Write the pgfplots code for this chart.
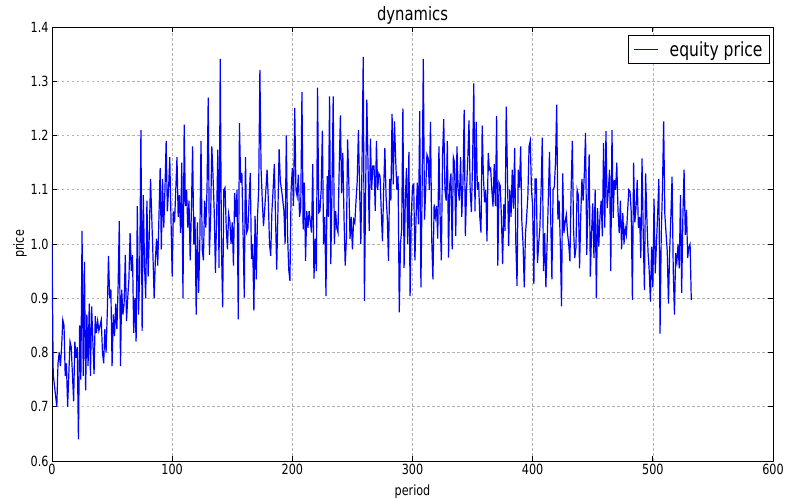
\documentclass[border=0pt]{standalone}
\usepackage{fontspec}
\setmainfont{DejaVu Sans}[FakeStretch=0.8]
\usepackage{pgfplots}
\pgfplotsset{compat=1.18}
\begin{document}
\begin{tikzpicture}
\begin{axis}[
  scale only axis, width=721pt, height=434pt,
  xmin=0, xmax=600, ymin=0.6, ymax=1.4,
  xtick={0,100,200,300,400,500,600},
  xticklabels={0,100,200,300,400,500,600},
  ytick={0.6,0.7,0.8,0.9,1.0,1.1,1.2,1.3,1.4},
  yticklabels={0.6,0.7,0.8,0.9,1.0,1.1,1.2,1.3,1.4},
  tick align=inside, major tick length=5pt,
  tick style={black, line width=0.8pt},
  axis line style={black, line width=0.9pt},
  grid=major,
  major grid style={black!30, dash pattern=on 2.5pt off 2.5pt, line width=0.6pt},
  ticklabel style={font=\fontsize{14}{16}\selectfont},
  title={dynamics},
  title style={font=\fontsize{18.5}{20}\selectfont, yshift=-7pt},
  xlabel={period}, ylabel={price},
  label style={font=\fontsize{14}{16}\selectfont},
  xlabel style={yshift=-3pt},
  ylabel style={yshift=-3pt},
  legend style={at={(0.9958,0.9816)}, anchor=north east, draw=black, line width=0.8pt,
    font=\fontsize{19.5}{21}\selectfont, inner xsep=5pt, inner ysep=4pt},
  legend cell align=left,
  legend image code/.code={\draw[#1] (0pt,0pt) -- (24pt,0pt);},
]
\addplot[blue, line width=1.2pt] coordinates {
(0,1.00)(1,0.76)(2,0.74)(3,0.72)(4,0.70)(5,0.78)(6,0.80)(7,0.775)(8,0.81)(9,0.86)
(10,0.85)(11,0.757)(12,0.78)(13,0.70)(14,0.76)(15,0.82)(16,0.81)(17,0.76)(18,0.71)(19,0.82)
(20,0.79)(21,0.81)(22,0.64)(23,0.85)(24,0.75)(25,1.024)(26,0.757)(27,0.967)(28,0.73)(29,0.87)
(30,0.775)(31,0.89)(32,0.757)(33,0.885)(34,0.82)(35,0.76)(36,0.867)(37,0.836)(38,0.858)(39,0.84)
(40,0.85)(41,0.86)(42,0.80)(43,0.78)(44,0.843)(45,0.80)(46,0.873)(47,0.978)(48,0.90)(49,0.916)
(50,0.775)(51,0.87)(52,0.83)(53,0.89)(54,0.843)(55,0.92)(56,1.042)(57,0.775)(58,0.916)(59,0.87)
(60,0.89)(61,0.98)(62,0.858)(63,0.90)(64,0.935)(65,1.02)(66,0.95)(67,0.98)(68,0.836)(69,0.90)
(70,0.82)(71,1.07)(72,0.87)(73,0.95)(74,1.21)(75,0.84)(76,1.09)(77,0.96)(78,0.90)(79,1.08)
(80,0.94)(81,1.02)(82,1.12)(83,1.05)(84,0.98)(85,0.90)(86,0.97)(87,1.01)(88,0.96)(89,1.05)
(90,1.14)(91,0.99)(92,1.12)(93,1.03)(94,1.10)(95,1.19)(96,1.06)(97,1.10)(98,1.16)(99,1.05)
(100,0.94)(101,1.06)(102,1.04)(103,1.10)(104,1.16)(105,1.05)(106,1.09)(107,1.02)(108,1.15)(109,0.90)
(110,1.22)(111,1.07)(112,1.10)(113,1.03)(114,1.08)(115,0.97)(116,1.06)(117,1.18)(118,1.00)(119,1.05)
(120,0.87)(121,1.04)(122,0.91)(123,1.00)(124,1.19)(125,0.99)(126,0.97)(127,1.08)(128,1.03)(129,1.10)
(130,1.27)(131,0.98)(132,1.05)(133,1.18)(134,1.125)(135,1.06)(136,0.947)(137,1.05)(138,1.174)(139,0.956)
(140,1.341)(141,1.00)(142,0.883)(143,1.10)(144,1.104)(145,1.03)(146,0.99)(147,1.055)(148,1.042)(149,1.00)
(150,1.04)(151,0.96)(152,1.094)(153,1.05)(154,1.10)(155,0.861)(156,1.223)(157,1.113)(158,1.131)(159,1.02)
(160,0.901)(161,1.16)(162,1.021)(163,1.027)(164,1.08)(165,1.131)(166,0.972)(167,1.00)(168,0.877)(169,1.052)
(170,0.935)(171,1.05)(172,1.10)(173,1.321)(174,1.137)(175,1.08)(176,1.033)(177,1.064)(178,1.10)(179,1.137)
(180,1.082)(181,1.00)(182,0.978)(183,1.06)(184,1.10)(185,1.147)(186,1.05)(187,0.953)(188,1.06)(189,1.175)
(190,1.116)(191,1.10)(192,1.082)(193,1.061)(194,1.00)(195,1.20)(196,1.02)(197,0.953)(198,0.932)(199,1.10)
(200,1.14)(201,1.07)(202,1.251)(203,1.10)(204,1.088)(205,1.128)(206,1.05)(207,1.067)(208,1.28)(209,1.027)
(210,1.113)(211,0.969)(212,1.061)(213,1.03)(214,1.061)(215,1.04)(216,1.021)(217,1.147)(218,0.936)(219,1.01)
(220,0.95)(221,1.288)(222,1.058)(223,1.061)(224,1.10)(225,1.209)(226,1.00)(227,1.05)(228,0.904)(229,1.125)
(230,1.05)(231,1.272)(232,0.963)(233,1.10)(234,1.272)(235,1.00)(236,1.061)(237,1.03)(238,1.021)(239,1.139)
(240,1.237)(241,1.094)(242,1.168)(243,1.05)(244,0.96)(245,1.01)(246,1.193)(247,1.113)(248,1.009)(249,1.05)
(250,0.99)(251,1.045)(252,1.039)(253,1.08)(254,1.116)(255,1.21)(256,1.10)(257,1.00)(258,1.15)(259,1.345)
(260,0.895)(261,1.10)(262,1.266)(263,1.144)(264,1.024)(265,1.194)(266,1.10)(267,1.144)(268,1.144)(269,1.061)
(270,1.19)(271,1.10)(272,1.13)(273,1.125)(274,1.06)(275,1.005)(276,1.10)(277,1.177)(278,1.088)(279,1.05)
(280,0.969)(281,1.12)(282,1.08)(283,1.24)(284,1.11)(285,1.226)(286,1.156)(287,1.10)(288,1.125)(289,0.874)
(290,1.00)(291,1.027)(292,1.25)(293,0.956)(294,1.08)(295,1.14)(296,1.00)(297,1.17)(298,0.904)(299,1.05)
(300,1.107)(301,1.11)(302,0.97)(303,1.05)(304,1.113)(305,1.036)(306,1.245)(307,0.92)(308,1.10)(309,1.341)
(310,1.045)(311,1.10)(312,1.165)(313,1.159)(314,1.10)(315,1.225)(316,1.009)(317,0.935)(318,1.073)(319,1.05)
(320,1.07)(321,1.01)(322,1.18)(323,1.05)(324,0.97)(325,1.162)(326,1.23)(327,1.10)(328,1.08)(329,1.19)
(330,0.975)(331,1.11)(332,1.13)(333,0.99)(334,1.16)(335,1.15)(336,1.015)(337,1.18)(338,1.10)(339,1.08)
(340,1.16)(341,1.05)(342,1.113)(343,1.247)(344,1.015)(345,1.10)(346,1.156)(347,1.228)(348,1.10)(349,1.059)
(350,1.15)(351,1.296)(352,1.06)(353,1.225)(354,1.10)(355,1.114)(356,1.05)(357,1.021)(358,1.218)(359,1.125)
(360,1.077)(361,1.10)(362,1.005)(363,1.168)(364,1.137)(365,1.14)(366,1.10)(367,1.069)(368,1.147)(369,1.07)
(370,1.236)(371,0.96)(372,1.113)(373,1.107)(374,1.05)(375,0.963)(376,1.073)(377,1.024)(378,1.253)(379,1.131)
(380,0.996)(381,1.10)(382,1.05)(383,1.137)(384,1.065)(385,1.177)(386,1.00)(387,0.923)(388,1.137)(389,1.104)
(390,1.18)(391,1.042)(392,1.00)(393,0.92)(394,1.018)(395,1.05)(396,1.088)(397,1.18)(398,1.19)(399,1.10)
(400,1.07)(401,0.926)(402,1.12)(403,1.12)(404,0.965)(405,1.00)(406,1.03)(407,1.10)(408,1.196)(409,0.95)
(410,1.02)(411,0.92)(412,1.00)(413,1.08)(414,1.17)(415,1.05)(416,0.935)(417,1.10)(418,1.105)(419,1.15)
(420,1.257)(421,1.045)(422,1.08)(423,1.00)(424,0.885)(425,1.13)(426,1.02)(427,1.04)(428,1.054)(429,1.02)
(430,1.00)(431,0.968)(432,1.10)(433,1.19)(434,1.03)(435,0.974)(436,0.993)(437,1.10)(438,1.09)(439,0.955)
(440,1.05)(441,1.12)(442,1.08)(443,1.13)(444,1.205)(445,0.98)(446,1.07)(447,1.165)(448,0.94)(449,1.02)
(450,1.075)(451,0.974)(452,1.10)(453,0.90)(454,1.066)(455,0.995)(456,1.05)(457,1.08)(458,1.014)(459,1.186)
(460,1.03)(461,1.208)(462,1.066)(463,1.10)(464,1.137)(465,0.95)(466,1.21)(467,1.048)(468,1.118)(469,1.10)
(470,1.15)(471,1.063)(472,1.02)(473,1.08)(474,0.99)(475,1.057)(476,1.00)(477,1.03)(478,1.017)(479,1.06)
(480,1.10)(481,1.097)(482,1.06)(483,0.897)(484,1.15)(485,1.04)(486,1.066)(487,1.118)(488,1.03)(489,1.05)
(490,0.974)(491,1.158)(492,1.02)(493,0.915)(494,1.13)(495,1.05)(496,0.986)(497,0.95)(498,0.894)(499,0.995)
(500,0.92)(501,1.083)(502,0.946)(503,1.00)(504,1.054)(505,1.12)(506,0.835)(507,1.017)(508,1.10)(509,1.226)
(510,1.054)(511,1.02)(512,0.986)(513,0.89)(514,0.986)(515,1.05)(516,1.124)(517,0.95)(518,0.87)(519,0.983)
(520,0.967)(521,1.00)(522,0.955)(523,1.09)(524,0.91)(525,1.05)(526,1.137)(527,1.017)(528,1.063)(529,0.974)
(530,0.995)(531,1.00)(532,0.897)
};
\addlegendentry{\hspace*{9pt}equity price}
\end{axis}
\pgfresetboundingbox
\path[use as bounding box] ([shift={(-52pt,-38pt)}]current axis.south west) rectangle ([shift={(14pt,27pt)}]current axis.north east);
\end{tikzpicture}
\end{document}
